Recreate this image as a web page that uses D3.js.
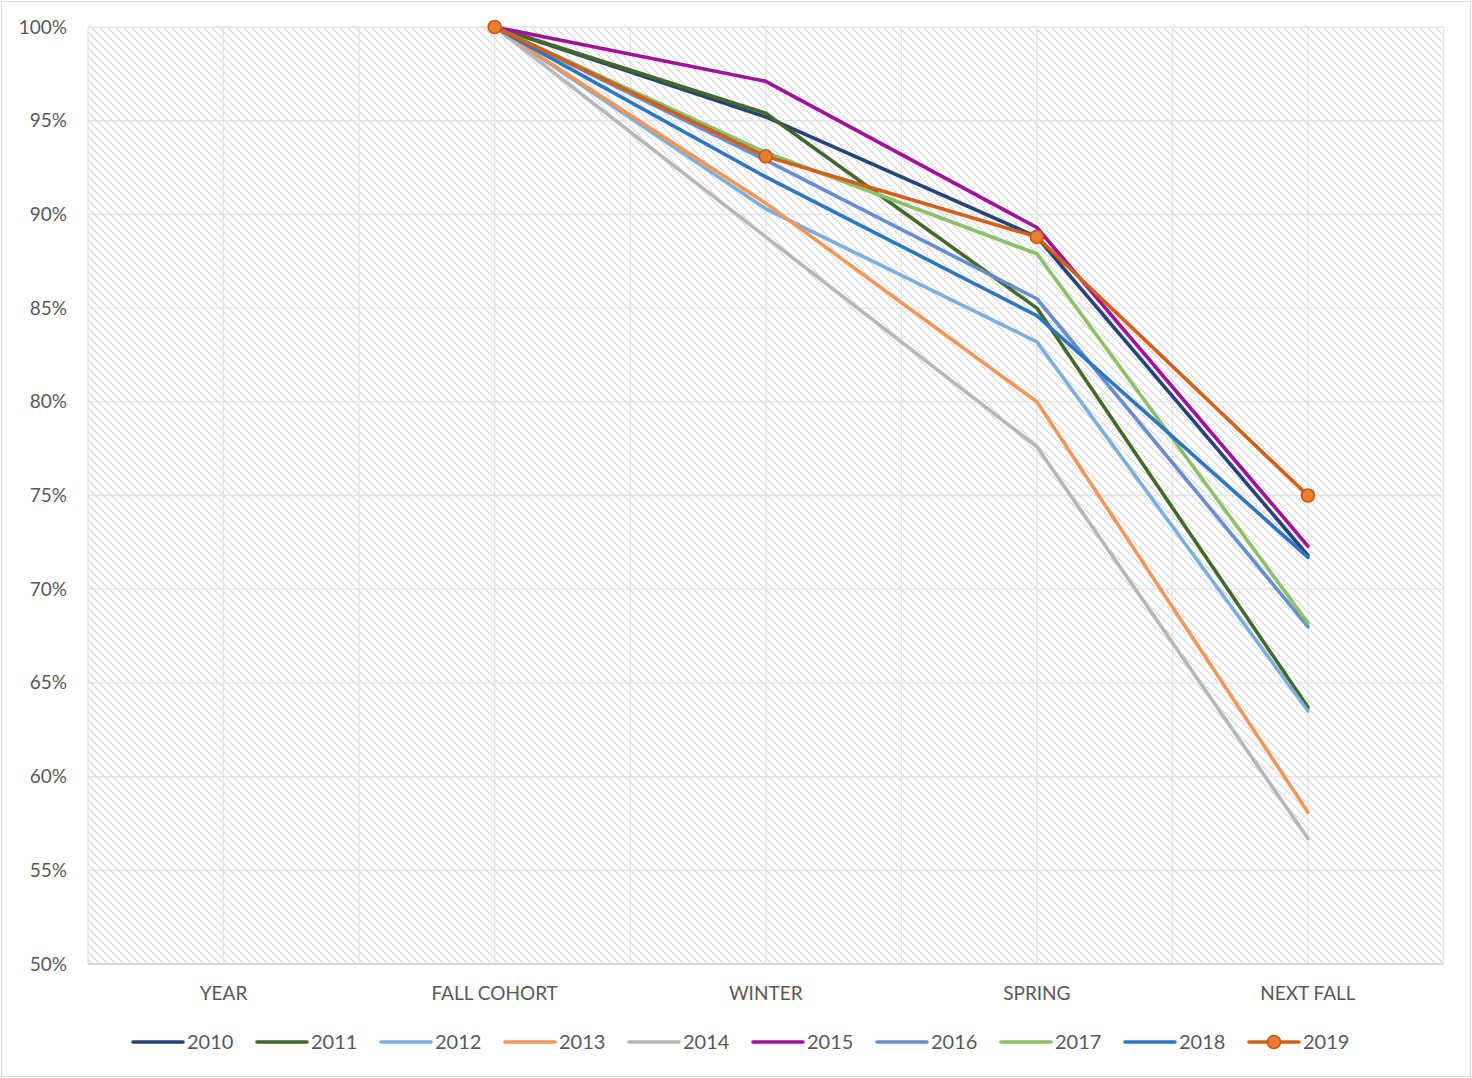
<!DOCTYPE html>
<html lang="en">
<head>
  <meta charset="UTF-8">
  <title>Retention by cohort</title>
  <script src="https://d3js.org/d3.v7.min.js"></script>
  <style>
    body { margin: 0; background: #fff; }
    text { font-family: Lato, "Open Sans", sans-serif; fill: #595959; }
  </style>
</head>
<body>
  <script>
    // data
    const categories = ["YEAR", "FALL COHORT", "WINTER", "SPRING", "NEXT FALL"];
    const years = ["2010", "2011", "2012", "2013", "2014", "2015", "2016", "2017", "2018", "2019"];
    const s2010 = [null, 1.000, 0.952, 0.888, 0.718];
    const s2011 = [null, 1.000, 0.954, 0.850, 0.637];
    const s2012 = [null, 1.000, 0.903, 0.832, 0.635];
    const s2013 = [null, 1.000, 0.906, 0.800, 0.581];
    const s2014 = [null, 1.000, 0.888, 0.776, 0.567];
    const s2015 = [null, 1.000, 0.971, 0.893, 0.723];
    const s2016 = [null, 1.000, 0.929, 0.855, 0.680];
    const s2017 = [null, 1.000, 0.933, 0.879, 0.682];
    const s2018 = [null, 1.000, 0.920, 0.846, 0.717];
    const s2019 = [null, 1.000, 0.931, 0.888, 0.750];
    const yTicks = [0.5, 0.55, 0.6, 0.65, 0.7, 0.75, 0.8, 0.85, 0.9, 0.95, 1.0];

    const seriesValues = [s2010, s2011, s2012, s2013, s2014, s2015, s2016, s2017, s2018, s2019];
    const colors = ["#264478", "#43682b", "#7cafdd", "#f1975a", "#b7b7b7",
                    "#a0119c", "#698ed0", "#8cc168", "#2f76c0", "#d2601a"];

    const width = 1472, height = 1078;
    const pLeft = 88, pRight = 1443.5, pTop = 27, pBottom = 964;

    const svg = d3.select("body").append("svg")
      .attr("width", width)
      .attr("height", height);

    // hatch pattern for the plot area
    const pat = svg.append("defs").append("pattern")
      .attr("id", "hatch")
      .attr("patternUnits", "userSpaceOnUse")
      .attr("width", 8).attr("height", 8);
    pat.append("rect").attr("width", 8).attr("height", 8).attr("fill", "#fff");
    pat.append("path")
      .attr("d", "M-2,-2 L10,10 M-2,6 L2,10 M6,-2 L10,2")
      .attr("stroke", "#dcdcdc")
      .attr("stroke-width", 2)
      .attr("stroke-dasharray", "2,1");

    // chart frame
    svg.append("rect")
      .attr("x", 1.5).attr("y", 1.5)
      .attr("width", 1469).attr("height", 1075)
      .attr("fill", "#fff")
      .attr("stroke", "#d9d9d9");

    const x = d3.scaleBand().domain(categories).range([pLeft, pRight]).padding(0);
    const y = d3.scaleLinear().domain([0.5, 1]).range([pBottom, pTop]);
    const cx = c => x(c) + x.bandwidth() / 2;

    svg.append("rect")
      .attr("x", pLeft).attr("y", pTop)
      .attr("width", pRight - pLeft).attr("height", pBottom - pTop)
      .attr("fill", "url(#hatch)");

    // gridlines
    const grid = svg.append("g").attr("stroke", "#e3e3e3").attr("stroke-width", 1.3);
    grid.selectAll("line.h")
      .data(yTicks)
      .join("line")
      .attr("x1", pLeft).attr("x2", pRight)
      .attr("y1", d => y(d)).attr("y2", d => y(d));
    const vlines = [];
    categories.forEach(c => { vlines.push(x(c)); vlines.push(cx(c)); });
    vlines.push(pRight);
    grid.selectAll("line.v")
      .data(vlines)
      .join("line")
      .attr("x1", d => d).attr("x2", d => d)
      .attr("y1", pTop).attr("y2", pBottom);

    // axis line
    svg.append("line")
      .attr("x1", pLeft).attr("x2", pRight)
      .attr("y1", pBottom).attr("y2", pBottom)
      .attr("stroke", "#d0d0d0").attr("stroke-width", 1.3);

    // y labels
    const yAxis = d3.axisLeft(y).tickValues(yTicks).tickFormat(d3.format(".0%")).tickSize(0).tickPadding(21);
    const ya = svg.append("g").attr("transform", `translate(${pLeft},0)`).call(yAxis);
    ya.select(".domain").remove();
    ya.selectAll("text").style("font-size", "19px").attr("fill", "#595959")
      .style("font-family", "Lato, 'Open Sans', sans-serif");

    // x labels
    svg.append("g").selectAll("text")
      .data(categories)
      .join("text")
      .attr("x", d => cx(d))
      .attr("y", 1000)
      .attr("text-anchor", "middle")
      .style("font-size", "19px")
      .text(d => d);

    // lines
    const line = d3.line()
      .defined(d => d.v !== null)
      .x(d => cx(d.c))
      .y(d => y(d.v));

    seriesValues.forEach((vals, i) => {
      const pts = vals.map((v, j) => ({ c: categories[j], v: v }));
      svg.append("path")
        .datum(pts)
        .attr("fill", "none")
        .attr("stroke", colors[i])
        .attr("stroke-width", 3.6)
        .attr("stroke-linejoin", "round")
        .attr("stroke-linecap", "round")
        .attr("d", line);
      if (years[i] === "2019") {
        svg.append("g").selectAll("circle")
          .data(pts.filter(d => d.v !== null))
          .join("circle")
          .attr("cx", d => cx(d.c))
          .attr("cy", d => y(d.v))
          .attr("r", 6.5)
          .attr("fill", "#ed7d31")
          .attr("stroke", "#c55a11")
          .attr("stroke-width", 1.6);
      }
    });

    // legend
    const leg = svg.append("g").selectAll("g")
      .data(years)
      .join("g")
      .attr("transform", (d, i) => `translate(${133 + i * 124},1042)`);
    leg.append("line")
      .attr("x1", 0).attr("x2", 50)
      .attr("stroke", (d, i) => colors[i])
      .attr("stroke-width", 3.6)
      .attr("stroke-linecap", "round");
    leg.filter(d => d === "2019").append("circle")
      .attr("cx", 25).attr("r", 6.5)
      .attr("fill", "#ed7d31")
      .attr("stroke", "#c55a11")
      .attr("stroke-width", 1.6);
    leg.append("text")
      .attr("x", 54)
      .attr("dy", "0.35em")
      .style("font-size", "20px")
      .text(d => d);
  </script>
</body>
</html>
